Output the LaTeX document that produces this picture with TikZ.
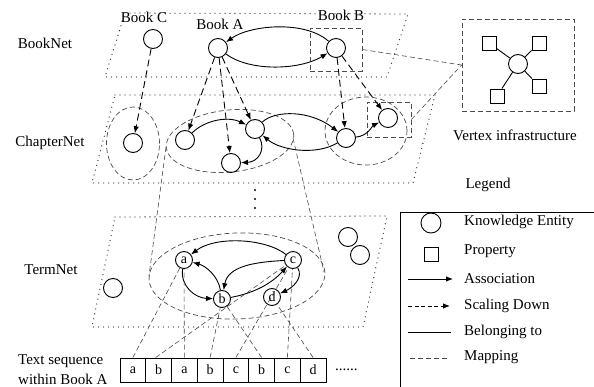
\documentclass[tikz,border=0pt]{standalone}
\usepackage{fontspec}
\setmainfont{Liberation Serif}
\usetikzlibrary{arrows.meta}
\tikzset{
  lbl/.style={font=\fontsize{15}{18}\selectfont, inner sep=0pt},
  ent/.style={circle, draw, line width=0.9pt, minimum size=19pt, inner sep=0pt},
  term/.style={circle, draw, line width=0.9pt, minimum size=17pt, inner sep=0pt, font=\fontsize{14}{16}\selectfont},
  prop/.style={rectangle, draw, line width=0.9pt, minimum size=14pt, inner sep=0pt},
  cellbox/.style={rectangle, draw, line width=0.9pt, minimum width=25.75pt, minimum height=24pt, inner sep=0pt, font=\fontsize{14}{16}\selectfont},
  plane/.style={line width=1.3pt, dash pattern=on 0pt off 5pt, line cap=round, black!80},
  assoc/.style={line width=0.9pt, -{Latex[length=7pt,width=5.5pt]}},
  scaledown/.style={line width=0.9pt, dash pattern=on 7pt off 4pt, -{Latex[length=7pt,width=5.5pt]}},
  mapline/.style={line width=0.6pt, dash pattern=on 5pt off 3pt, black!70},
  region/.style={line width=0.7pt, dash pattern=on 5pt off 3pt, black!70},
  framebox/.style={draw, line width=0.8pt, dash pattern=on 5pt off 3pt, black!70, inner sep=0pt},
}
\begin{document}
\begin{tikzpicture}[x=1pt,y=-1pt]
\fill[white] (0,0) rectangle (594,387);
\useasboundingbox (0,0) rectangle (594,387);

% the three layers
\draw[plane] (125,13) -- (408,14) -- (387,77) -- (105,77) -- cycle;
\draw[plane] (115,95) -- (435,95) -- (413,183) -- (92,183) -- cycle;
\draw[plane] (115,217) -- (387,216) -- (363,327) -- (92,327) -- cycle;

% layer names and book names
\node[lbl] (tBookNet) at (45,43) {BookNet};
\node[lbl] (tChapterNet) at (50,143) {ChapterNet};
\node[lbl] (tTermNet) at (51,270) {TermNet};
\node[lbl] (tBookC) at (144,17) {Book C};
\node[lbl] (tBookA) at (220,24) {Book A};
\node[lbl] (tBookB) at (341,15) {Book B};

% chapter groups and term group
\draw[region] (133,143.5) ellipse [x radius=26.5pt, y radius=36.5pt];
\draw[region, rotate around={6:(230,141)}] (230,141) ellipse [x radius=64pt, y radius=31pt];
\draw[region] (366,131) ellipse [x radius=41pt, y radius=34pt];
\draw[region, rotate around={2:(237,276)}] (237,276) ellipse [x radius=88pt, y radius=43pt];

% BookNet
\node[ent] (bC) at (153,39) {};
\node[ent] (bA) at (218,48) {};
\node[ent] (bB) at (336,48) {};
\node[framebox, minimum width=52pt, minimum height=43pt] (bBbox) at (336,49.5) {};

% ChapterNet
\node[ent] (cC) at (133,143) {};
\node[ent] (n1) at (185,140) {};
\node[ent] (n2) at (255,129) {};
\node[ent] (n3) at (231,163) {};
\node[ent] (m1) at (346,138) {};
\node[ent] (m2) at (388,118) {};
\node[framebox, minimum width=44pt, minimum height=35pt] (m2box) at (389,119.5) {};

% TermNet
\node[ent] (tx1) at (113,288) {};
\node[ent] (tx2) at (348,237) {};
\node[ent] (tx3) at (360,255) {};
\node[term] (ta) at (184,260) {a};
\node[term] (tb) at (222,299) {b};
\node[term] (tc) at (293,260) {c};
\node[term] (td) at (272,297) {d};

% book associations
\draw[assoc] (bB) .. controls (305,20) and (250,25) .. (bA);
\draw[assoc] (bA) .. controls (250,72) and (300,70) .. (bB);

% scaling down to chapters
\draw[scaledown] (bC) -- (cC);
\draw[scaledown] (bA) -- (n1);
\draw[scaledown] (bA) -- (n2);
\draw[scaledown] (bA) -- (n3);
\draw[scaledown] (bB) -- (m1);
\draw[scaledown] (bB) -- (m2);

% chapter associations
\draw[assoc] (n1) .. controls (205,120) and (228,116) .. (n2);
\draw[assoc] (n2) .. controls (266,150) and (258,162) .. (n3);
\draw[assoc] (n2) .. controls (275,110) and (310,110) .. (m1);
\draw[assoc] (m1) .. controls (315,156) and (280,150) .. (n2);
\draw[assoc] (m1) .. controls (368,136) and (372,126) .. (m2);

% term associations
\draw[assoc] (tc) .. controls (265,238) and (215,236) .. (ta);
\draw[assoc] (tb) .. controls (218,276) and (206,266) .. (ta);
\draw[assoc] (tc) .. controls (255,262) and (228,266) .. (tb);
\draw[assoc] (ta) .. controls (180,286) and (195,298) .. (tb);
\draw[assoc] (tb) .. controls (255,293) and (272,283) .. (tc);
\draw[assoc] (tc) .. controls (304,278) and (292,288) .. (td);

% the chapter group of Book A opens into its terms
\coordinate (coneL1) at (166,147);
\coordinate (coneL2) at (149,276);
\coordinate (coneR1) at (293,138);
\coordinate (coneR2) at (324,272);
\draw[mapline] (coneL1) -- (coneL2);
\draw[mapline] (coneR1) -- (coneR2);

% layers omitted in between
\fill (255,190) circle (1.1pt);
\fill (255,199) circle (1.1pt);
\fill (255,208) circle (1.1pt);

% vertex infrastructure
\node[framebox, minimum width=112pt, minimum height=92pt] (vi) at (518,65) {};
\node[ent] (viC) at (518,64) {};
\node[prop] (viS1) at (489,43) {};
\node[prop] (viS2) at (539,43) {};
\node[prop] (viS3) at (539,86) {};
\node[prop] (viS4) at (497,96) {};
\draw[line width=0.9pt] (viC) -- (viS1);
\draw[line width=0.9pt] (viC) -- (viS2);
\draw[line width=0.9pt] (viC) -- (viS3);
\draw[line width=0.9pt] (viC) -- (viS4);
\draw[mapline] (bBbox.east) -- (vi.west);
\draw[mapline] (m2box.east) -- (vi.west);
\node[lbl] (tVI) at (515,135) {Vertex infrastructure};

% text sequence
\node[lbl, font=\fontsize{15}{20}\selectfont, anchor=west, align=left] (tSeq) at (18,370) {Text sequence\\within Book A};
\foreach \t [count=\i] in {a,b,a,b,c,b,c,d}
  \node[cellbox] (cell\i) at ({120+25.75*(\i-0.5)},370) {\t};
\node[lbl, anchor=base west] (more) at (335,370) {......};

% occurrences mapped to terms
\draw[mapline] (cell1.north) -- (ta);
\draw[mapline] ([xshift=-3pt]cell2.north) -- (tc);
\draw[mapline] (cell3.north) -- (ta);
\draw[mapline] (cell4.north) -- (tb);
\draw[mapline] (cell5.north) -- (tc);
\draw[mapline] (cell6.north) -- (tb);
\draw[mapline] (cell7.north) -- (tc);
\draw[mapline] (cell8.north) -- (td);

% legend
\node[lbl] (tLegend) at (488,185) {Legend};
\draw[line width=0.8pt] (600,212) -- (400,212) -- (400,392);
\node[ent, minimum size=20pt] (lgKE) at (431,223) {};
\node[prop] (lgPR) at (431,254) {};
\coordinate (lgA1) at (408,279); \coordinate (lgA2) at (453,279);
\coordinate (lgS1) at (408,306); \coordinate (lgS2) at (450,306);
\coordinate (lgB1) at (408,332); \coordinate (lgB2) at (451,332);
\coordinate (lgM1) at (410,358); \coordinate (lgM2) at (448,358);
\draw[assoc] (lgA1) -- (lgA2);
\draw[line width=0.9pt, dash pattern=on 4pt off 2.5pt, -{Latex[length=7pt,width=5.5pt]}] (lgS1) -- (lgS2);
\draw[line width=0.9pt] (lgB1) -- (lgB2);
\draw[mapline] (lgM1) -- (lgM2);
\node[lbl, anchor=west] (lgT1) at (464,222) {Knowledge Entity};
\node[lbl, anchor=west] (lgT2) at (464,251) {Property};
\node[lbl, anchor=west] (lgT3) at (464,279) {Association};
\node[lbl, anchor=west] (lgT4) at (464,306) {Scaling Down};
\node[lbl, anchor=west] (lgT5) at (464,332) {Belonging to};
\node[lbl, anchor=west] (lgT6) at (464,357) {Mapping};
\end{tikzpicture}
\end{document}
